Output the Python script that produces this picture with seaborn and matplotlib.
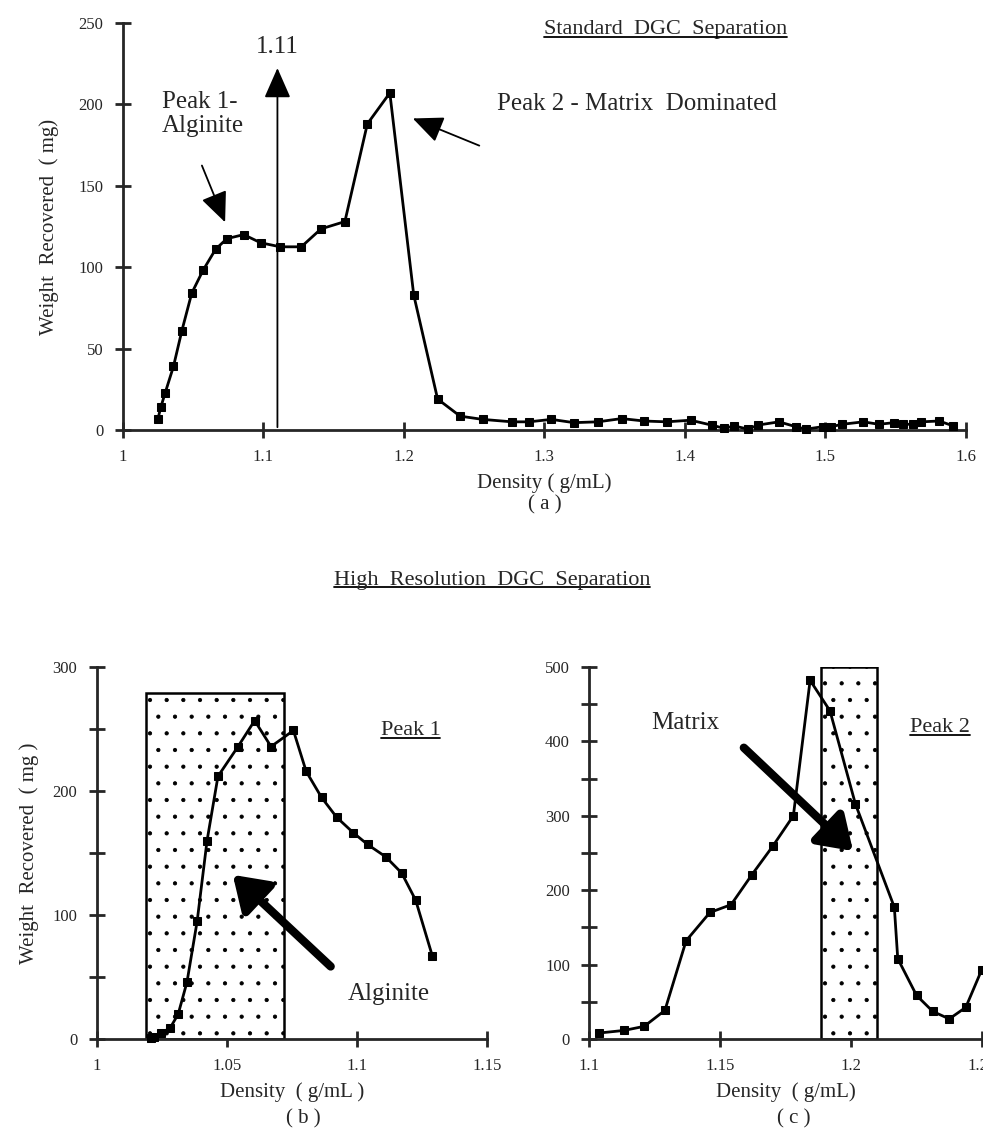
import matplotlib
matplotlib.use("Agg")
import matplotlib.pyplot as plt
import seaborn as sns
from matplotlib.lines import Line2D

# (a) standard separation
a_density = [1.025, 1.027, 1.030, 1.036, 1.042, 1.049, 1.057, 1.066, 1.074, 1.086,
             1.098, 1.112, 1.127, 1.141, 1.158, 1.174, 1.190, 1.207, 1.224, 1.240,
             1.256, 1.277, 1.289, 1.305, 1.321, 1.338, 1.355, 1.371, 1.387, 1.404,
             1.419, 1.428, 1.435, 1.445, 1.452, 1.467, 1.479, 1.486, 1.498, 1.504,
             1.512, 1.527, 1.538, 1.549, 1.555, 1.562, 1.568, 1.581, 1.591]
a_weight = [7, 14, 22.5, 39, 61, 84, 98, 111, 117.5, 120,
            115, 112.5, 112.5, 123.5, 128, 188, 207, 83, 19, 8.5,
            6.5, 5, 5, 6.5, 4.5, 5, 7, 5.5, 5, 6,
            3, 1, 2.5, 0.5, 3, 5, 2, 0.5, 2, 2,
            3.5, 5, 3.5, 4.5, 3.5, 3.5, 5, 5.5, 2.5]
a_xticks = [1, 1.1, 1.2, 1.3, 1.4, 1.5, 1.6]
a_yticks = [0, 50, 100, 150, 200, 250]
cut_density = 1.11

# (b) high resolution, peak 1
b_density = [1.0210, 1.0222, 1.0246, 1.0281, 1.0313, 1.0347, 1.0386, 1.0424, 1.0466,
             1.0543, 1.0607, 1.0670, 1.0756, 1.0805, 1.0864, 1.0922, 1.0986, 1.1041,
             1.1111, 1.1172, 1.1226, 1.1290]
b_weight = [1, 2, 5, 8.5, 20, 46, 95, 160, 212,
            236, 257, 236, 249, 216, 195, 179, 166.5, 157,
            147, 134, 112, 67]
b_band = (1.019, 1.072, 279)
b_xticks = [1, 1.05, 1.1, 1.15]
b_yticks = [0, 50, 100, 150, 200, 250, 300]

# (c) high resolution, peak 2
c_density = [1.1037, 1.1133, 1.1210, 1.1289, 1.1370, 1.1461, 1.1542, 1.1622, 1.1701,
             1.1780, 1.1844, 1.1920, 1.2017, 1.2166, 1.2179, 1.2251, 1.2313, 1.2376,
             1.2439, 1.2500]
c_weight = [8, 11.5, 17, 38.5, 132, 170, 180.5, 221, 259,
            300, 482, 441, 316, 177, 108, 58.5, 37, 27,
            42.5, 93]
c_band = (1.1885, 1.2100, 500)
c_xticks = [1.1, 1.15, 1.2, 1.25]
c_yticks = [0, 50, 100, 150, 200, 250, 300, 350, 400, 450, 500]

sns.set_style("ticks")
plt.rcParams["font.family"] = ["Liberation Serif", "DejaVu Serif"]
plt.rcParams["hatch.linewidth"] = 0.6

fig = plt.figure(figsize=(9.83, 11.36), dpi=100)
ax_a = fig.add_axes([0.125, 0.6215, 0.8576, 0.3583])
ax_b = fig.add_axes([0.0984, 0.0854, 0.397, 0.3272])
ax_c = fig.add_axes([0.5995, 0.0854, 0.3992, 0.3275])

thin_head = "-|>,head_length=0.75,head_width=0.33"
thick_head = "-|>,head_length=0.9,head_width=0.6"


def style_axes(ax, xticks, yticks, ylabels):
    sns.despine(ax=ax)
    for s in ["left", "bottom"]:
        ax.spines[s].set_linewidth(2)
    ax.set_xticks(xticks)
    ax.set_xticklabels(["%g" % t for t in xticks])
    ax.set_yticks(yticks)
    ax.set_yticklabels(ylabels)
    ax.tick_params(direction="inout", length=12, width=2, labelsize=12, pad=8)
    ax.set_xlim(xticks[0], xticks[-1])
    ax.set_ylim(yticks[0], yticks[-1])


def draw_series(ax, x, y):
    sns.lineplot(x=x, y=y, ax=ax, color="black", linewidth=2, marker="s",
                 markersize=6, markeredgecolor="black", sort=False, zorder=3)
    for ln in ax.lines:
        ln.set_clip_on(False)


def underline(txt, lw=1.3):
    fig.canvas.draw()
    bb = txt.get_window_extent().transformed(fig.transFigure.inverted())
    fig.add_artist(Line2D([bb.x0, bb.x1], [bb.y0 + 0.002, bb.y0 + 0.002],
                          transform=fig.transFigure, color="black", lw=lw))


# ---- (a)
draw_series(ax_a, a_density, a_weight)
style_axes(ax_a, a_xticks, a_yticks, [str(t) for t in a_yticks])
ax_a.set_xlabel("Density ( g/mL)", fontsize=15, labelpad=6)
ax_a.set_ylabel("Weight  Recovered  ( mg)", fontsize=15, labelpad=14)
ax_a.text(0.5, -0.185, "( a )", transform=ax_a.transAxes, ha="center", va="center", fontsize=15)

ax_a.annotate("", xy=(cut_density, 224), xytext=(cut_density, 0),
              arrowprops=dict(arrowstyle=thin_head, color="black", lw=1.3, mutation_scale=25))
ax_a.text(cut_density, 235, "1.11", ha="center", va="center", fontsize=18)
ax_a.text(1.028, 194, "Peak 1-\nAlginite", ha="left", va="center", fontsize=18, linespacing=1.1)
ax_a.annotate("", xy=(1.0735, 126), xytext=(1.0555, 164),
              arrowprops=dict(arrowstyle=thin_head, color="black", lw=1.3, mutation_scale=25))
ax_a.text(1.266, 200, "Peak 2 - Matrix  Dominated", ha="left", va="center", fontsize=18)
ax_a.annotate("", xy=(1.2045, 192), xytext=(1.2555, 174),
              arrowprops=dict(arrowstyle=thin_head, color="black", lw=1.3, mutation_scale=25))
t_std = ax_a.text(1.386, 246, "Standard  DGC  Separation", ha="center", va="center", fontsize=16)

t_hi = fig.text(0.5005, 0.4894, "High  Resolution  DGC  Separation", ha="center", va="center", fontsize=16)

# ---- (b)
ax_b.bar([b_band[0]], [b_band[2]], width=b_band[1] - b_band[0], align="edge",
         facecolor="white", edgecolor="black", linewidth=1.8, hatch=".", zorder=1)
draw_series(ax_b, b_density, b_weight)
style_axes(ax_b, b_xticks, b_yticks, ["0", "", "100", "", "200", "", "300"])
ax_b.set_xlabel("Density  ( g/mL )", fontsize=15, labelpad=6)
ax_b.set_ylabel("Weight  Recovered  ( mg )", fontsize=15, labelpad=10)
ax_b.text(0.53, -0.215, "( b )", transform=ax_b.transAxes, ha="center", va="center", fontsize=15)
t_p1 = ax_b.text(1.1206, 249, "Peak 1", ha="center", va="center", fontsize=16)
ax_b.text(1.0963, 36, "Alginite", ha="left", va="center", fontsize=18)
ax_b.annotate("", xy=(1.0515, 134), xytext=(1.0907, 57),
              arrowprops=dict(arrowstyle=thick_head, color="black", lw=6, mutation_scale=22))

# ---- (c)
ax_c.bar([c_band[0]], [c_band[2]], width=c_band[1] - c_band[0], align="edge",
         facecolor="white", edgecolor="black", linewidth=1.8, hatch=".", zorder=1)
draw_series(ax_c, c_density, c_weight)
style_axes(ax_c, c_xticks, c_yticks,
           ["0", "", "100", "", "200", "", "300", "", "400", "", "500"])
ax_c.set_xlabel("Density  ( g/mL)", fontsize=15, labelpad=6)
ax_c.text(0.52, -0.215, "( c )", transform=ax_c.transAxes, ha="center", va="center", fontsize=15)
t_p2 = ax_c.text(1.2225, 418, "Peak 2", ha="left", va="center", fontsize=16)
ax_c.text(1.1238, 425, "Matrix", ha="left", va="center", fontsize=18)
ax_c.annotate("", xy=(1.2016, 250), xytext=(1.1583, 394),
              arrowprops=dict(arrowstyle=thick_head, color="black", lw=6, mutation_scale=22))

for t in [t_std, t_hi, t_p1, t_p2]:
    underline(t)

fig.savefig("out.png", dpi=100, facecolor="white")
